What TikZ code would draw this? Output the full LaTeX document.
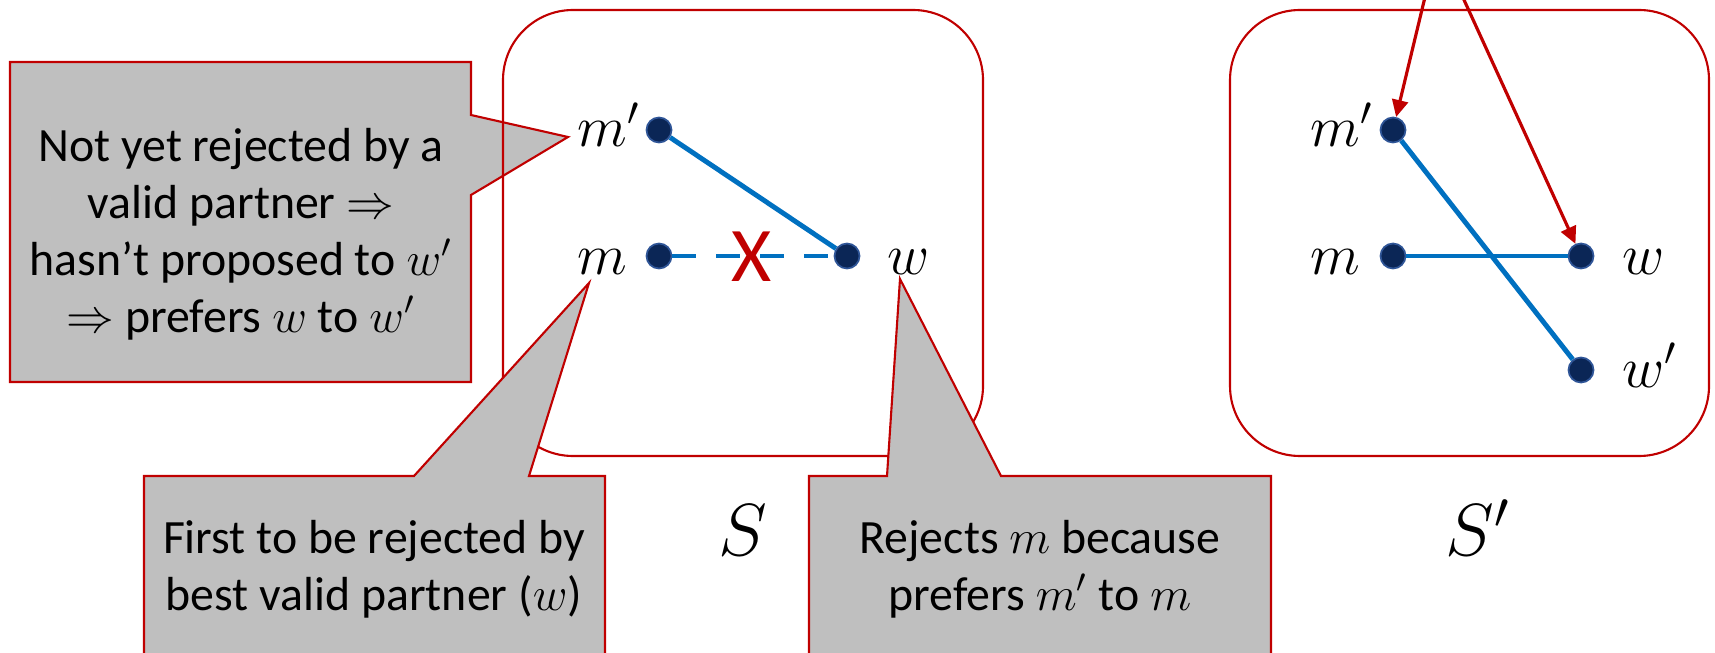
\RequirePackage{fix-cm}
\documentclass[tikz,border=0pt]{standalone}
\usepackage{fontspec}
\setmainfont{Carlito}
\usetikzlibrary{arrows.meta}
\definecolor{boxred}{HTML}{C00000}
\definecolor{lineblue}{HTML}{0070C0}
\definecolor{dotnavy}{HTML}{0B2656}
\definecolor{dotedge}{HTML}{2F5597}
\definecolor{calloutgray}{HTML}{BFBFBF}

\begin{document}
\begin{tikzpicture}[x=1cm,y=1cm,
  dot/.style={circle,fill=dotnavy,draw=dotedge,line width=0.5pt,minimum size=0.25cm,inner sep=0pt},
  lbl/.style={inner sep=0pt,anchor=base west,font=\fontsize{16.5}{19}\selectfont},
  setname/.style={inner sep=0pt,anchor=base,font=\fontsize{21}{25}\selectfont},
  setbox/.style={draw=boxred,line width=0.6pt,rounded corners=0.7cm},
  callout/.style={draw=boxred,line width=0.6pt,fill=calloutgray},
  ctext/.style={align=center,font=\fontsize{13.6}{16.2}\selectfont},
  pair/.style={draw=lineblue,line width=1.4pt},
  pointer/.style={draw=boxred,line width=0.9pt,-{Triangle[length=0.17cm,width=0.16cm]}}]
\useasboundingbox (0,0) rectangle (17.15,6.52);
\clip (0,0) rectangle (17.15,6.52);

% note on m' (lies under the box S)
\draw[callout] (0.10,5.90) -- (4.71,5.90) -- (4.71,5.37) -- (5.68,5.15) -- (4.71,4.57) -- (4.71,2.70) -- (0.10,2.70) -- cycle;
\node[ctext] (note_mp) at (2.41,4.18) {Not yet rejected by a\\valid partner $\Rightarrow$\\hasn’t proposed to $w'$\\$\Rightarrow$ prefers $w$ to $w'$};

% matching S
\draw[setbox] (5.03,1.96) rectangle (9.83,6.42);
\node[dot] (s_mp) at (6.59,5.22) {};
\node[dot] (s_m) at (6.59,3.96) {};
\node[dot] (s_w) at (8.47,3.96) {};
\node[lbl] (s_mp_lbl) at (5.77,5.05) {$m'$};
\node[lbl] (s_m_lbl) at (5.77,3.77) {$m$};
\node[lbl] (s_w_lbl) at (8.87,3.77) {$w$};
\draw[pair] (s_mp) -- (s_w);
\draw[pair,dash pattern=on 0.24cm off 0.2cm] (s_m) -- (s_w);
\node[text=boxred,inner sep=0pt,font=\fontsize{22}{26}\selectfont] (s_cross) at (7.52,3.95) {X};
\node[setname] (s_name) at (7.43,0.97) {$S$};

% matching S'
\draw[setbox] (12.30,1.96) rectangle (17.09,6.42);
\node[dot] (t_mp) at (13.93,5.22) {};
\node[dot] (t_m) at (13.93,3.96) {};
\node[dot] (t_w) at (15.81,3.96) {};
\node[dot] (t_wp) at (15.81,2.82) {};
\node[lbl] (t_mp_lbl) at (13.10,5.05) {$m'$};
\node[lbl] (t_m_lbl) at (13.10,3.77) {$m$};
\node[lbl] (t_w_lbl) at (16.22,3.77) {$w$};
\node[lbl] (t_wp_lbl) at (16.22,2.65) {$w'$};
\draw[pair] (t_mp) -- (t_wp);
\draw[pair] (t_m) -- (t_w);
\node[setname] (t_name) at (14.78,0.97) {$S'$};
\coordinate (src) at (14.38,7.09);
\draw[pointer] (src) -- (t_mp);
\draw[pointer] (src) -- (t_w);

% notes on m and w
\draw[callout] (1.44,-0.5) -- (1.44,1.76) -- (4.14,1.76) -- (5.89,3.69) -- (5.29,1.76) -- (6.05,1.76) -- (6.05,-0.5) -- cycle;
\node[ctext] (note_m) at (3.74,0.83) {First to be rejected by\\best valid partner ($w$)};
\draw[callout] (8.09,-0.5) -- (8.09,1.76) -- (8.87,1.76) -- (9.00,3.73) -- (10.01,1.76) -- (12.71,1.76) -- (12.71,-0.5) -- cycle;
\node[ctext] (note_w) at (10.40,0.83) {Rejects $m$ because\\prefers $m'$ to $m$};
\end{tikzpicture}
\end{document}
